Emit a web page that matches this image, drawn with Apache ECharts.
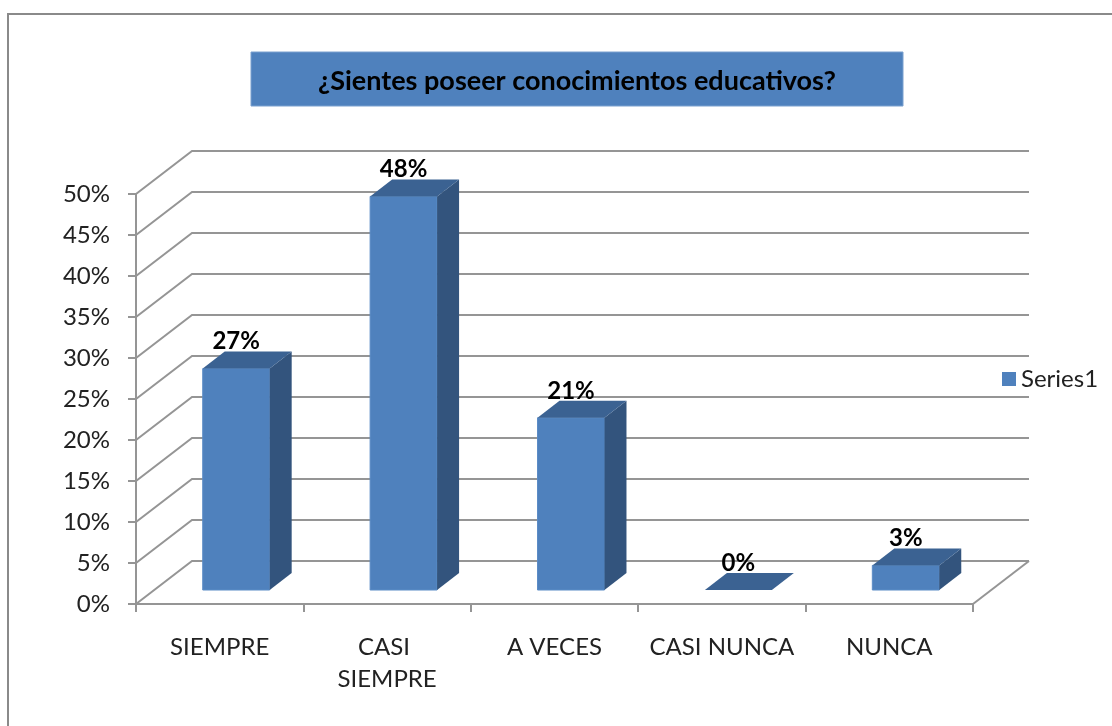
<!DOCTYPE html>
<html>
<head>
<meta charset="utf-8">
<script src="https://cdn.jsdelivr.net/npm/echarts@6/dist/echarts.min.js"></script>
<style>
  html, body { margin: 0; padding: 0; background: #fff; }
  #chart { width: 1112px; height: 726px; }
</style>
</head>
<body>
<div id="chart"></div>
<script>
const categories = ['SIEMPRE', 'CASI SIEMPRE', 'A VECES', 'CASI NUNCA', 'NUNCA']
const values = [27, 48, 21, 0, 3]
const yTicks = [0, 5, 10, 15, 20, 25, 30, 35, 40, 45, 50]

const FONT = 'Lato, "Open Sans", sans-serif'
// depth of the floor / walls (px)
const DEPTH_X = 56
const DEPTH_Y = -43

const chart = echarts.init(document.getElementById('chart'))

// back wall + side wall lines
const renderWalls = (params, api) => {
  const y = api.coord([0, api.value(1)])[1]
  const x0 = params.coordSys.x
  const x1 = params.coordSys.x + params.coordSys.width
  const style = { stroke: '#959595', lineWidth: 2, fill: null }
  const children = [{
    type: 'polyline',
    shape: { points: [[x0, y], [x0 + DEPTH_X, y + DEPTH_Y], [x1 + DEPTH_X, y + DEPTH_Y]] },
    style
  }]
  if (api.value(1) === 0) {
    children.push({
      type: 'line',
      shape: { x1: x1, y1: y, x2: x1 + DEPTH_X, y2: y + DEPTH_Y },
      style
    })
  }
  return { type: 'group', children }
}

// 3d bar: front, side, top and label
const renderBar = (params, api) => {
  const idx = api.value(0)
  const v = api.value(1)
  const base = api.coord([idx, 0])
  const top = api.coord([idx, v])
  const w = api.size([1, 0])[0] * 0.4
  const ox = 16.5, oy = -14
  const dx = 22, dy = -17
  const cx = base[0] + ox
  const xa = cx - w / 2, xb = cx + w / 2
  const yb = base[1] + oy, yt = top[1] + oy
  const children = []
  if (yb - yt > 0.5) {
    children.push({
      type: 'rect',
      shape: { x: xa, y: yt, width: w, height: yb - yt },
      style: { fill: '#4f81bd', stroke: '#5b8cc6', lineWidth: 1 }
    })
    children.push({
      type: 'polygon',
      shape: { points: [[xb, yb], [xb, yt], [xb + dx, yt + dy], [xb + dx, yb + dy]] },
      style: { fill: '#33547d' }
    })
  }
  children.push({
    type: 'polygon',
    shape: { points: [[xa, yt], [xb, yt], [xb + dx, yt + dy], [xa + dx, yt + dy]] },
    style: { fill: '#3b6292' }
  })
  children.push({
    type: 'text',
    style: {
      x: cx, y: yt + dy + 2,
      text: v + '%',
      textAlign: 'center', textVerticalAlign: 'bottom',
      font: 'bold 24px ' + FONT,
      fill: '#000'
    }
  })
  return { type: 'group', children }
}

const option = {
  backgroundColor: '#fff',
  animation: false,
  graphic: [
    {
      type: 'rect',
      shape: { x: 8, y: 14, width: 1300, height: 900 },
      style: { fill: 'none', stroke: '#8a8a8a', lineWidth: 2 },
      z: 0
    },
    {
      type: 'rect',
      shape: { x: 251, y: 52, width: 652, height: 54 },
      style: { fill: '#4f81bd', stroke: '#7aa0cf', lineWidth: 1 },
      z: 1
    },
    {
      type: 'text',
      x: 577, y: 81,
      style: {
        text: '¿Sientes poseer conocimientos educativos?',
        textAlign: 'center', textVerticalAlign: 'middle',
        font: 'bold 27px ' + FONT,
        fill: '#000'
      },
      z: 2
    }
  ],
  legend: {
    data: ['Series1'],
    left: 997,
    top: 362,
    icon: 'rect',
    itemWidth: 14,
    itemHeight: 14,
    itemGap: 6,
    textStyle: { fontFamily: FONT, fontSize: 24, color: '#222' }
  },
  grid: { left: 136, right: 139, top: 194, bottom: 122 },
  xAxis: {
    type: 'category',
    data: categories,
    axisLine: { lineStyle: { color: '#959595', width: 2 } },
    axisTick: { show: true, interval: 0, length: 8, lineStyle: { color: '#959595', width: 2 } },
    axisLabel: {
      interval: 0,
      margin: 27,
      width: 150,
      overflow: 'break',
      lineHeight: 32,
      fontFamily: FONT,
      fontSize: 24,
      color: '#222'
    }
  },
  yAxis: {
    type: 'value',
    min: 0,
    max: 50,
    interval: 5,
    axisLine: { show: true, lineStyle: { color: '#959595', width: 2 } },
    axisTick: { show: true, length: 8, lineStyle: { color: '#959595', width: 2 } },
    splitLine: { show: false },
    axisLabel: {
      formatter: '{value}%',
      margin: 26,
      fontFamily: FONT,
      fontSize: 24,
      color: '#222'
    }
  },
  series: [
    {
      name: 'walls',
      type: 'custom',
      clip: false,
      silent: true,
      renderItem: renderWalls,
      data: yTicks.map(t => [0, t]),
      z: 1
    },
    {
      name: 'Series1',
      type: 'custom',
      clip: false,
      itemStyle: { color: '#4f81bd' },
      renderItem: renderBar,
      data: values.map((v, i) => [i, v]),
      z: 3
    }
  ]
}

chart.setOption(option)
</script>
</body>
</html>
